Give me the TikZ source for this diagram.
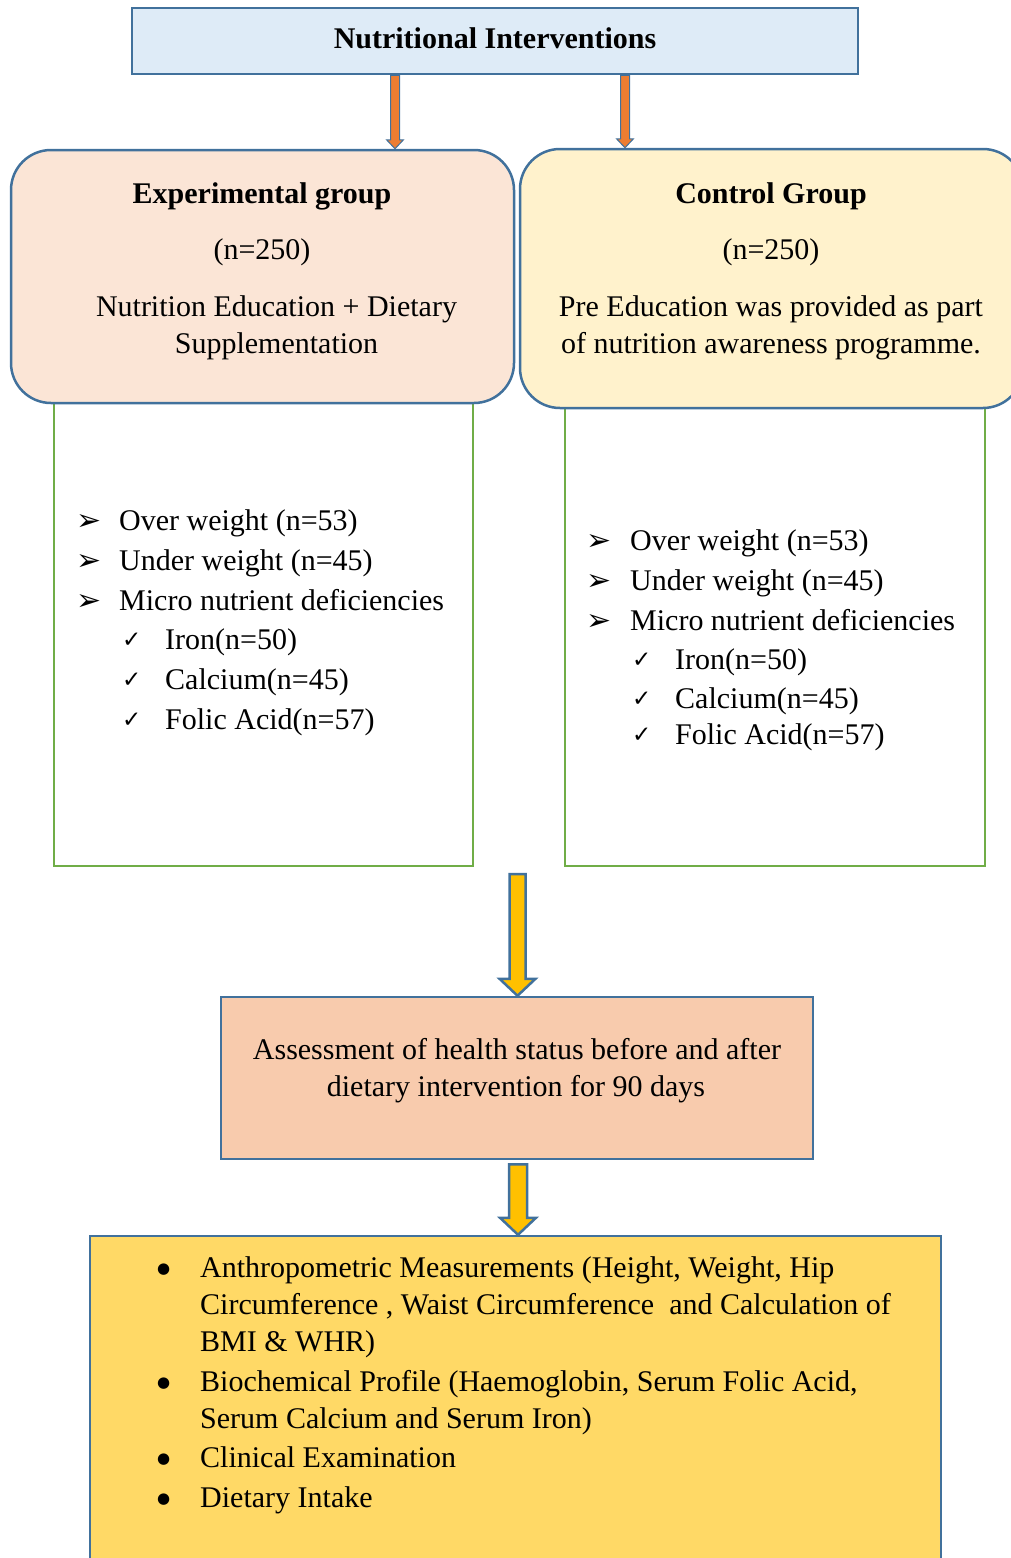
\documentclass[tikz,border=0pt]{standalone}
\usepackage{fontspec}
\setmainfont{Liberation Serif}
\newfontfamily\dejavu{DejaVu Sans}
\usetikzlibrary{calc}
\definecolor{bdr}{HTML}{41719C}
\definecolor{topfill}{HTML}{DEEBF7}
\definecolor{expfill}{HTML}{FBE5D6}
\definecolor{ctrlfill}{HTML}{FFF2CC}
\definecolor{grn}{HTML}{70AD47}
\definecolor{orng}{HTML}{ED7D31}
\definecolor{yel}{HTML}{FFC000}
\definecolor{assfill}{HTML}{F8CBAD}
\definecolor{botfill}{HTML}{FFD966}
\newcommand\arrbul{{\dejavu\fontsize{30}{30}\selectfont ➢}}
\newcommand\chkbul{\raisebox{2pt}{\dejavu\fontsize{23}{24}\selectfont ✓}}
\newcommand\dotbul{\raisebox{4pt}{\dejavu\fontsize{15}{16}\selectfont ●}}
% block arrow: style, start, tip, shaft half, head half, head length
\newcommand\blockarrow[6]{%
  \path (#2) coordinate (ba-s) (#3) coordinate (ba-e);
  \draw[#1] ($(ba-s)+(-#4,0)$) -- ($(ba-e)+(-#4,-#6)$) -- ($(ba-e)+(-#5,-#6)$) -- (ba-e)
    -- ($(ba-e)+(#5,-#6)$) -- ($(ba-e)+(#4,-#6)$) -- ($(ba-s)+(#4,0)$) -- cycle;}
\begin{document}
\begin{tikzpicture}[x=1pt,y=-1pt,
  box/.style={draw=bdr, line width=2.5pt, inner sep=0pt},
  grnbox/.style={draw=grn, line width=2pt, inner sep=0pt},
  txt/.style={inner sep=0pt, font=\fontsize{30}{36}\selectfont},
  btxt/.style={inner sep=0pt, font=\fontsize{30}{36}\selectfont\bfseries},
  orangearr/.style={fill=orng, draw=bdr, line width=1pt, line join=miter},
  yellowarr/.style={fill=yel, draw=bdr, line width=2.5pt, line join=miter}]
\useasboundingbox (0,0) rectangle (1011,1558);
% boxes
\node[box, fill=topfill, minimum width=726, minimum height=66] (top) at (495,41) {};
\node[grnbox, minimum width=419, minimum height=463] (gl) at (263.5,634.5) {};
\node[grnbox, minimum width=420, minimum height=458] (gr) at (775,637) {};
\node[box, fill=expfill, rounded corners=40pt, minimum width=503, minimum height=253] (exp) at (262.5,276.5) {};
\node[box, fill=ctrlfill, rounded corners=40pt, minimum width=503, minimum height=259] (ctrl) at (771.5,278.5) {};
\node[box, fill=assfill, minimum width=592, minimum height=162] (ass) at (517,1078) {};
\node[box, fill=botfill, minimum width=851, minimum height=364] (bot) at (515.5,1418) {};
% arrows
\coordinate (ax1) at (395,0);
\coordinate (ax2) at (625,0);
\coordinate (ax3) at (517.5,0);
\coordinate (ax4) at (518,0);
\blockarrow{orangearr}{ax1 |- top.south}{ax1 |- exp.north}{4.5}{8.5}{9}
\blockarrow{orangearr}{ax2 |- top.south}{ax2 |- ctrl.north}{4.5}{8.5}{9}
\blockarrow{yellowarr}{$(ax3 |- gl.south)+(0,7)$}{ax3 |- ass.north}{8}{18}{17}
\blockarrow{yellowarr}{$(ax4 |- ass.south)+(0,4)$}{ax4 |- bot.north}{9}{18}{17}
% titles
\node[btxt, anchor=base] (ttop) at (495,48) {Nutritional Interventions};
\node[btxt, anchor=base] (te1) at (262,203) {Experimental group};
\node[txt, anchor=base] (te2) at (262,259) {(n=250)};
\node[txt, anchor=base] (te3) at (276.5,316) {Nutrition Education + Dietary};
\node[txt, anchor=base] (te4) at (276.5,353) {Supplementation};
\node[btxt, anchor=base] (tc1) at (771,203) {Control Group};
\node[txt, anchor=base] (tc2) at (771,259) {(n=250)};
\node[txt, anchor=base] (tc3) at (771,316) {Pre Education was provided as part};
\node[txt, anchor=base] (tc4) at (771,353) {of nutrition awareness programme.};
% left list
\node[txt, anchor=base west] (el1) at (76,530) {\makebox[43pt][l]{\arrbul}Over weight (n=53)};
\node[txt, anchor=base west] (el2) at (76,570) {\makebox[43pt][l]{\arrbul}Under weight (n=45)};
\node[txt, anchor=base west] (el3) at (76,610) {\makebox[43pt][l]{\arrbul}Micro nutrient deficiencies};
\node[txt, anchor=base west] (el4) at (122,649) {\makebox[43pt][l]{\chkbul}Iron(n=50)};
\node[txt, anchor=base west] (el5) at (122,689) {\makebox[43pt][l]{\chkbul}Calcium(n=45)};
\node[txt, anchor=base west] (el6) at (122,729) {\makebox[43pt][l]{\chkbul}Folic Acid(n=57)};
% right list
\node[txt, anchor=base west] (cl1) at (586,550) {\makebox[44pt][l]{\arrbul}Over weight (n=53)};
\node[txt, anchor=base west] (cl2) at (586,590) {\makebox[44pt][l]{\arrbul}Under weight (n=45)};
\node[txt, anchor=base west] (cl3) at (586,630) {\makebox[44pt][l]{\arrbul}Micro nutrient deficiencies};
\node[txt, anchor=base west] (cl4) at (632,669) {\makebox[43pt][l]{\chkbul}Iron(n=50)};
\node[txt, anchor=base west] (cl5) at (632,708) {\makebox[43pt][l]{\chkbul}Calcium(n=45)};
\node[txt, anchor=base west] (cl6) at (632,744) {\makebox[43pt][l]{\chkbul}Folic Acid(n=57)};
% assessment
\node[txt, anchor=base] (as1) at (517,1059) {Assessment of health status before and after};
\node[txt, anchor=base] (as2) at (516,1096) {dietary intervention for 90 days};
% bottom list
\node[txt, anchor=base west] (bl1) at (157,1277) {\makebox[43pt][l]{\dotbul}Anthropometric Measurements (Height, Weight, Hip};
\node[txt, anchor=base west] (bl2) at (200,1314) {Circumference , Waist Circumference~ and Calculation of};
\node[txt, anchor=base west] (bl3) at (200,1351) {BMI \& WHR)};
\node[txt, anchor=base west] (bl4) at (157,1391) {\makebox[43pt][l]{\dotbul}Biochemical Profile (Haemoglobin, Serum Folic Acid,};
\node[txt, anchor=base west] (bl5) at (200,1428) {Serum Calcium and Serum Iron)};
\node[txt, anchor=base west] (bl6) at (157,1467) {\makebox[43pt][l]{\dotbul}Clinical Examination};
\node[txt, anchor=base west] (bl7) at (157,1507) {\makebox[43pt][l]{\dotbul}Dietary Intake};
\end{tikzpicture}
\end{document}
